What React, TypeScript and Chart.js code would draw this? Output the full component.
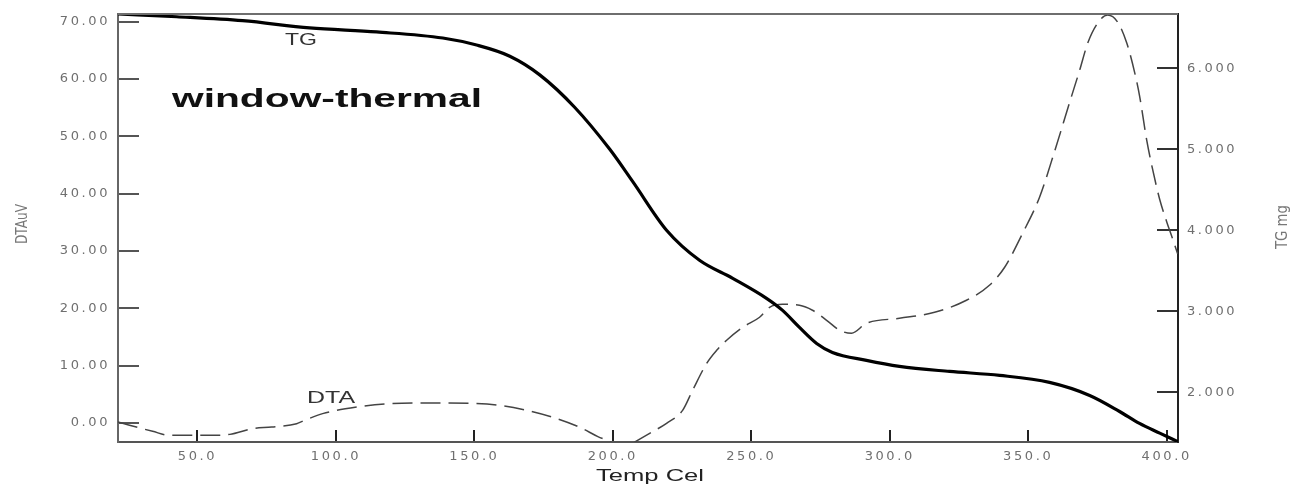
import { useEffect, useRef } from "react";
import { Chart, registerables } from "chart.js";

Chart.register(...registerables);

// TG curve (mass, mg) vs temperature (Cel)
const tgTemp = [21.3, 42.5, 66.3, 90.5, 114.7, 138.6, 150.8, 162.8, 173.6, 186.2, 198.9, 207.2, 219.4, 231.3, 243.3, 255.5, 261.3, 267.4, 273.6, 279.3, 291.6, 303.5, 321.6, 339.7, 357.7, 372.2, 383.0, 390.2, 397.5, 404.0];
const tgMass = [6.672, 6.638, 6.589, 6.50, 6.45, 6.375, 6.288, 6.150, 5.92, 5.52, 5.00, 4.60, 4.000, 3.629, 3.406, 3.159, 3.010, 2.800, 2.602, 2.491, 2.392, 2.318, 2.256, 2.207, 2.120, 1.959, 1.761, 1.613, 1.494, 1.390];

// DTA curve (uV) vs temperature (Cel)
const dtaTemp = [21.3, 33.8, 40.0, 47.9, 55.5, 61.7, 69.9, 76.8, 85.8, 88.7, 95.2, 107.5, 119.4, 133.9, 148.3, 159.2, 168.9, 178.3, 188.1, 194.6, 199.3, 203.7, 208.3, 213.3, 219.4, 225.2, 228.8, 233.9, 237.5, 241.1, 246.9, 253.0, 256.6, 261.3, 267.4, 272.1, 277.2, 281.9, 286.2, 291.6, 303.5, 316.2, 327.7, 336.0, 341.5, 348.0, 354.1, 359.6, 365.0, 368.6, 371.5, 375.1, 378.7, 382.3, 385.6, 388.5, 390.3, 392.8, 395.0, 397.5, 400.1, 401.9, 404.0];
const dtaValues = [0.18, -1.44, -2.14, -2.14, -2.14, -1.97, -0.97, -0.69, -0.1, 0.48, 1.65, 2.8, 3.39, 3.5, 3.44, 3.09, 2.22, 1.0, -0.75, -2.36, -3.31, -4.6, -3.2, -1.79, -0.05, 2.22, 5.71, 10.43, 12.7, 14.45, 16.71, 18.46, 20.2, 20.72, 20.55, 19.68, 17.93, 16.19, 15.66, 17.41, 18.28, 19.33, 21.42, 24.04, 27.18, 33.12, 39.4, 47.5, 56.0, 61.57, 66.28, 69.77, 71.17, 69.95, 66.28, 61.05, 56.86, 49.35, 44.11, 39.0, 35.0, 32.5, 29.5];

// Axis ticks
const tempTicks = [50, 100, 150, 200, 250, 300, 350, 400];
const dtaTicks = [0, 10, 20, 30, 40, 50, 60, 70];
const tgTicks = [2, 3, 4, 5, 6];

const tickFont = { family: "'DejaVu Sans'", size: 13 };
const tickColor = "#6f6f6f";

function drawFit(
  ctx: CanvasRenderingContext2D,
  text: string,
  x: number,
  y: number,
  width: number,
  font: string,
  color: string,
  rotation = 0
) {
  ctx.save();
  (ctx as any).letterSpacing = "0px";
  ctx.font = font;
  const w = ctx.measureText(text).width;
  ctx.translate(x, y);
  ctx.rotate(rotation);
  ctx.scale(width / w, 1);
  ctx.textAlign = "center";
  ctx.textBaseline = "alphabetic";
  ctx.fillStyle = color;
  ctx.fillText(text, 0, 0);
  ctx.restore();
}

const textPlugin = {
  id: "thermalText",
  beforeUpdate(chart: any) {
    chart.ctx.letterSpacing = "2.6px";
  },
  beforeDraw(chart: any) {
    chart.ctx.letterSpacing = "2.6px";
  },
  afterDraw(chart: any) {
    const ctx: CanvasRenderingContext2D = chart.ctx;
    const a = chart.chartArea;
    ctx.save();
    ctx.strokeStyle = "#6e6e6e";
    ctx.lineWidth = 2;
    ctx.beginPath();
    ctx.moveTo(a.left, a.top);
    ctx.lineTo(a.right, a.top);
    ctx.stroke();
    ctx.restore();

    drawFit(ctx, "window-thermal", 327, 107, 310, "bold 25px 'Liberation Sans'", "#111");
    drawFit(ctx, "TG", 301, 45, 32, "16px 'Liberation Sans'", "#333");
    drawFit(ctx, "DTA", 331, 403, 48, "17px 'Liberation Sans'", "#333");
    drawFit(ctx, "Temp Cel", 650, 481, 108, "16px 'Liberation Sans'", "#222");
    drawFit(ctx, "DTAuV", 27, 224, 40, "16px 'DejaVu Sans Condensed'", "#777", -Math.PI / 2);
    drawFit(ctx, "TG mg", 1287, 227, 44, "16px 'DejaVu Sans Condensed'", "#777", -Math.PI / 2);
  },
};

const noPad = (s: any) => {
  s.paddingTop = 0;
  s.paddingBottom = 0;
  s.paddingLeft = 0;
  s.paddingRight = 0;
};

export default function App() {
  const ref = useRef<HTMLCanvasElement | null>(null);

  useEffect(() => {
    if (!ref.current) return;
    const chart = new Chart(ref.current, {
      type: "line",
      data: {
        datasets: [
          {
            label: "TG",
            data: tgTemp.map((t, i) => ({ x: t, y: tgMass[i] })),
            xAxisID: "x",
            yAxisID: "yR",
            borderColor: "#000",
            borderWidth: 3.2,
            pointRadius: 0,
            cubicInterpolationMode: "monotone",
            fill: false,
          },
          {
            label: "DTA",
            data: dtaTemp.map((t, i) => ({ x: t, y: dtaValues[i] })),
            xAxisID: "x",
            yAxisID: "yL",
            borderColor: "#444",
            borderWidth: 1.5,
            borderDash: [20, 8],
            pointRadius: 0,
            cubicInterpolationMode: "monotone",
            fill: false,
          },
        ],
      },
      options: {
        animation: false,
        responsive: true,
        maintainAspectRatio: false,
        layout: { padding: { top: 14, left: 0, right: 0, bottom: 0 } },
        plugins: { legend: { display: false }, tooltip: { enabled: false } },
        scales: {
          x: {
            type: "linear",
            position: "bottom",
            min: 21.3,
            max: 404.1,
            afterBuildTicks: (s: any) => {
              s.ticks = tempTicks.map((v) => ({ value: v }));
            },
            afterFit: (s: any) => {
              s.height = 44;
              noPad(s);
            },
            ticks: {
              callback: (v: any) => Number(v).toFixed(1),
              font: tickFont,
              color: tickColor,
              padding: 19,
              maxRotation: 0,
              autoSkip: false,
            },
            grid: {
              drawOnChartArea: false,
              drawTicks: true,
              tickLength: -12,
              color: "#222",
              lineWidth: 2,
            },
            border: { display: true, color: "#555", width: 2 },
          },
          yL: {
            type: "linear",
            position: "left",
            min: -3.3,
            max: 71.35,
            afterBuildTicks: (s: any) => {
              s.ticks = dtaTicks.map((v) => ({ value: v }));
            },
            afterFit: (s: any) => {
              s.width = 118;
              noPad(s);
            },
            ticks: {
              callback: (v: any) => Number(v).toFixed(2),
              font: tickFont,
              color: tickColor,
              padding: 29,
              autoSkip: false,
            },
            grid: {
              drawOnChartArea: false,
              drawTicks: true,
              tickLength: -21,
              color: "#555",
              lineWidth: 2,
            },
            border: { display: true, color: "#666", width: 2 },
          },
          yR: {
            type: "linear",
            position: "right",
            min: 1.384,
            max: 6.672,
            afterBuildTicks: (s: any) => {
              s.ticks = tgTicks.map((v) => ({ value: v }));
            },
            afterFit: (s: any) => {
              s.width = 121;
              noPad(s);
            },
            ticks: {
              callback: (v: any) => Number(v).toFixed(3),
              font: tickFont,
              color: tickColor,
              padding: 30,
              autoSkip: false,
            },
            grid: {
              drawOnChartArea: false,
              drawTicks: true,
              tickLength: -21,
              color: "#333",
              lineWidth: 2,
            },
            border: { display: true, color: "#222", width: 2 },
          },
        },
      },
      plugins: [textPlugin],
    } as any);
    return () => chart.destroy();
  }, []);

  return (
    <div style={{ position: "fixed", left: 0, top: 0, width: 1299, height: 486, background: "#fff" }}>
      <canvas ref={ref} />
    </div>
  );
}
